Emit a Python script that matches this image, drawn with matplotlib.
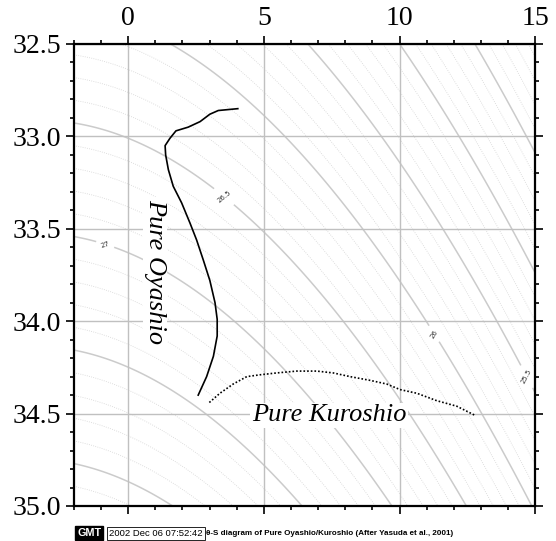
import numpy as np
import matplotlib
matplotlib.use("Agg")
import matplotlib.pyplot as plt
from matplotlib.ticker import MultipleLocator, FormatStrFormatter

# Pure Oyashio profile (potential temperature degC, salinity psu)
oyashio_t = [4.04, 3.32, 3.01, 2.65, 2.21, 1.76, 1.54, 1.36, 1.38, 1.48, 1.66,
             1.97, 2.28, 2.52, 2.77, 3.01, 3.20, 3.28, 3.28, 3.14, 2.89, 2.58]
oyashio_s = [32.85, 32.86, 32.88, 32.92, 32.95, 32.97, 33.01, 33.05, 33.10, 33.18, 33.27,
             33.36, 33.47, 33.56, 33.67, 33.78, 33.90, 33.99, 34.08, 34.19, 34.30, 34.40]

# Pure Kuroshio profile
kuroshio_t = [2.99, 3.38, 3.87, 4.37, 4.86, 5.47, 6.21, 6.95, 7.56, 8.18, 8.91,
              9.53, 10.02, 10.64, 11.37, 12.11, 12.79]
kuroshio_s = [34.44, 34.39, 34.34, 34.30, 34.29, 34.28, 34.27, 34.27, 34.28, 34.30, 34.32,
              34.34, 34.37, 34.39, 34.43, 34.46, 34.51]

# Axis ranges and density levels
t_range = (-2.0, 15.0)
s_range = (32.5, 35.0)
labelled_levels = [25.5, 26.0, 26.5, 27.0]

title_stamp = "2002 Dec 06 07:52:42"
caption = "\u03b8-S diagram of Pure Oyashio/Kuroshio (After Yasuda et al., 2001)"


def sigma_theta(s, t):
    """UNESCO (1981) seawater density anomaly at zero pressure."""
    rho_w = (999.842594 + 6.793952e-2 * t - 9.095290e-3 * t**2 + 1.001685e-4 * t**3
             - 1.120083e-6 * t**4 + 6.536332e-9 * t**5)
    b = 8.24493e-1 - 4.0899e-3 * t + 7.6438e-5 * t**2 - 8.2467e-7 * t**3 + 5.3875e-9 * t**4
    c = -5.72466e-3 + 1.0227e-4 * t - 1.6546e-6 * t**2
    d = 4.8314e-4
    return rho_w + b * s + c * s**1.5 + d * s**2 - 1000.0


fig = plt.figure(figsize=(5.56, 5.41), dpi=100)
ax = fig.add_axes([0.133, 0.0647, 0.8295, 0.854])

tt, ss = np.meshgrid(np.linspace(*t_range, 400), np.linspace(*s_range, 400))
sig = sigma_theta(ss, tt)

all_levels = np.round(np.arange(23.5, 28.6, 0.1), 1)
fine = [v for v in all_levels if abs(v * 2 - round(v * 2)) > 1e-6]
coarse = [v for v in all_levels if abs(v * 2 - round(v * 2)) <= 1e-6
          and v not in labelled_levels]

ax.contour(tt, ss, sig, levels=fine, colors="#d4d4d4", linewidths=0.6,
           linestyles=":", zorder=1)
ax.contour(tt, ss, sig, levels=coarse, colors="#cbcbcb", linewidths=1.1, zorder=1)
cs = ax.contour(tt, ss, sig, levels=labelled_levels, colors="#cbcbcb", linewidths=1.1,
                zorder=1)
ax.clabel(cs, inline=True, fontsize=5, colors="#333333", fmt=lambda v: f"{v:g}",
          manual=[(-0.86, 33.59), (3.51, 33.33), (11.25, 34.07), (14.69, 34.30)])

ax.grid(True, which="major", color="#c0c0c0", linewidth=1.0, zorder=0.5)

ax.plot(oyashio_t, oyashio_s, color="black", linewidth=1.2, zorder=4)
ax.plot(kuroshio_t, kuroshio_s, color="black", linewidth=1.2, linestyle=(0, (1, 1.2)),
        zorder=4)

serif = "Liberation Serif"
ax.text(0.99, 33.73, "Pure Oyashio", rotation=-90, ha="center", va="center",
        fontsize=19, family=serif, style="italic", zorder=3,
        bbox=dict(facecolor="white", edgecolor="none", pad=1))
ax.text(7.40, 34.51, "Pure Kuroshio", ha="center", va="center",
        fontsize=19, family=serif, style="italic", zorder=3,
        bbox=dict(facecolor="white", edgecolor="none", pad=1))

ax.set_xlim(*t_range)
ax.set_ylim(s_range[1], s_range[0])
ax.xaxis.set_major_locator(MultipleLocator(5))
ax.xaxis.set_minor_locator(MultipleLocator(1))
ax.yaxis.set_major_locator(MultipleLocator(0.5))
ax.yaxis.set_minor_locator(MultipleLocator(0.1))
ax.yaxis.set_major_formatter(FormatStrFormatter("%.1f"))
ax.tick_params(which="both", direction="out", top=True, bottom=True, left=True, right=True,
               labeltop=True, labelbottom=False, labelleft=True, labelright=False,
               width=1.2, labelsize=20, pad=4)
ax.tick_params(which="major", length=5.5)
ax.tick_params(which="minor", length=3)
for lab in ax.get_xticklabels() + ax.get_yticklabels():
    lab.set_family(serif)
for sp in ax.spines.values():
    sp.set_linewidth(1.6)
    sp.set_zorder(5)

# Stamp line below the frame
stamp_y = 0.0142
fig.text(77 / 556, stamp_y, "GMT", fontsize=7.8, weight="bold", color="white",
         family="Liberation Sans", va="center",
         bbox=dict(facecolor="black", edgecolor="black", pad=1.5))
fig.text(109 / 556, stamp_y, title_stamp, fontsize=6.8, color="black",
         family="Liberation Sans", va="center",
         bbox=dict(facecolor="white", edgecolor="black", linewidth=0.6, pad=1.5))
fig.text(206 / 556, stamp_y, caption, fontsize=5.8, weight="bold", color="black",
         family="Liberation Sans", va="center")

fig.savefig("out.png", dpi=100)
